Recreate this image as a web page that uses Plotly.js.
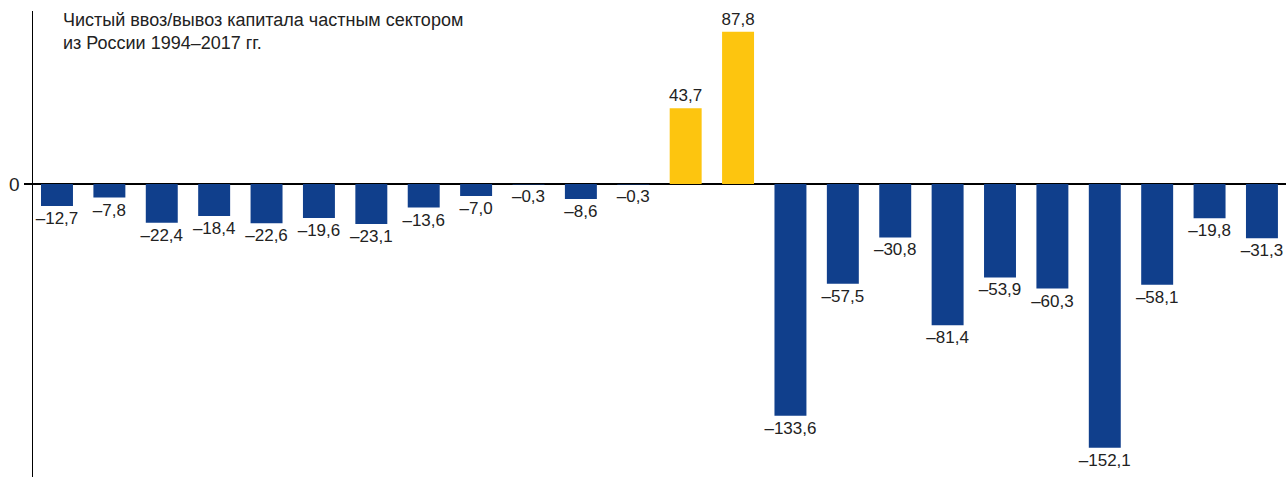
<!DOCTYPE html>
<html>
<head>
<meta charset="utf-8">
<script src="https://cdn.plot.ly/plotly-3.0.1.min.js"></script>
<style>html,body{margin:0;padding:0;background:#fff;}#chart{width:1286px;height:477px;}</style>
</head>
<body>
<div id="chart"></div>
<script>
const years = [1994,1995,1996,1997,1998,1999,2000,2001,2002,2003,2004,2005,2006,2007,2008,2009,2010,2011,2012,2013,2014,2015,2016,2017];
const values = [-12.7,-7.8,-22.4,-18.4,-22.6,-19.6,-23.1,-13.6,-7.0,-0.3,-8.6,-0.3,43.7,87.8,-133.6,-57.5,-30.8,-81.4,-53.9,-60.3,-152.1,-58.1,-19.8,-31.3];
const titleText = 'Чистый ввоз/вывоз капитала частным сектором<br>из России 1994–2017 гг.';

const BLUE = '#103f8c';
const YELLOW = '#fdc50f';
const FONT = '"Liberation Sans", Arial, sans-serif';

const labels = values.map(v => (v < 0 ? '–' : '') + Math.abs(v).toFixed(1).replace('.', ','));
const colors = values.map(v => v >= 0 ? YELLOW : BLUE);

const trace = {
  type: 'bar',
  x: years,
  y: values,
  marker: {color: colors, line: {width: 0}},
  text: labels,
  textposition: 'outside',
  constraintext: 'none',
  cliponaxis: false,
  textfont: {family: FONT, size: 17, color: '#222'},
  hoverinfo: 'skip'
};

const layout = {
  width: 1286,
  height: 477,
  margin: {l: 33, r: 0, t: 11, b: 0, pad: 0},
  paper_bgcolor: '#fff',
  plot_bgcolor: '#fff',
  bargap: 0.39,
  showlegend: false,
  font: {family: FONT, size: 17, color: '#222'},
  annotations: [{
    text: titleText,
    xref: 'paper', yref: 'paper',
    x: (61 - 33) / 1253, xanchor: 'left',
    y: 1, yanchor: 'top', yshift: 3,
    align: 'left',
    showarrow: false,
    font: {family: FONT, size: 18, color: '#222'}
  }],
  xaxis: {
    type: 'linear',
    range: [1993.542, 2017.459],
    showticklabels: false,
    ticks: '',
    showgrid: false,
    zeroline: false,
    showline: false
  },
  yaxis: {
    range: [-168.9, 99.7],
    tickvals: [0],
    ticktext: ['0'],
    ticks: 'outside',
    ticklen: 8,
    tickwidth: 1.5,
    tickcolor: '#000',
    tickfont: {family: FONT, size: 19, color: '#222'},
    showgrid: false,
    zeroline: true,
    zerolinecolor: '#000',
    zerolinewidth: 1.5,
    showline: true,
    linecolor: '#000',
    linewidth: 1.5
  }
};

Plotly.newPlot('chart', [trace], layout, {displayModeBar: false, staticPlot: true});
</script>
</body>
</html>
